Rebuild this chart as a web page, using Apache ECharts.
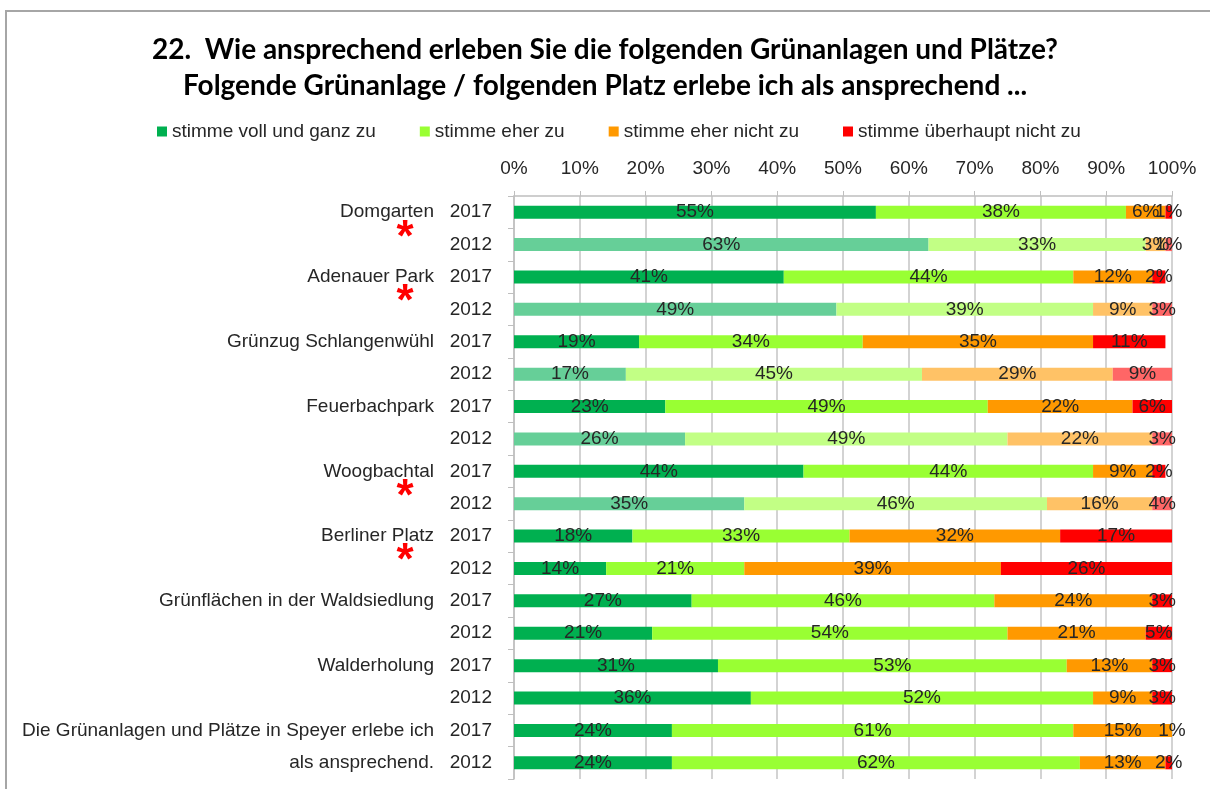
<!DOCTYPE html>
<html>
<head>
<meta charset="utf-8">
<script src="https://cdn.jsdelivr.net/npm/echarts@6/dist/echarts.min.js"></script>
<style>
    html, body { margin: 0; padding: 0; background: #fff; }
    #chart { width: 1210px; height: 789px; }
</style>
</head>
<body>
<div id="chart"></div>
<script>
// rows from top to bottom
let names = ['Domgarten', '', 'Adenauer Park', '', 'Grünzug Schlangenwühl', '', 'Feuerbachpark', '',
    'Woogbachtal', '', 'Berliner Platz', '', 'Grünflächen in der Waldsiedlung', '', 'Walderholung', '',
    'Die Grünanlagen und Plätze in Speyer erlebe ich', 'als ansprechend.'];
let years = ['2017', '2012', '2017', '2012', '2017', '2012', '2017', '2012', '2017', '2012',
    '2017', '2012', '2017', '2012', '2017', '2012', '2017', '2012'];
// 2012 rows drawn in the paler colours
let faded = [0, 1, 0, 1, 0, 1, 0, 1, 0, 1, 0, 0, 0, 0, 0, 0, 0, 0];
// rows marked with a red asterisk (between 2017 and 2012)
let starred = [0, 2, 8, 10];

let seriesNames = ['stimme voll und ganz zu', 'stimme eher zu', 'stimme eher nicht zu', 'stimme überhaupt nicht zu'];
let vollUndGanz = [55, 63, 41, 49, 19, 17, 23, 26, 44, 35, 18, 14, 27, 21, 31, 36, 24, 24];
let eherZu = [38, 33, 44, 39, 34, 45, 49, 49, 44, 46, 33, 21, 46, 54, 53, 52, 61, 62];
let eherNicht = [6, 3, 12, 9, 35, 29, 22, 22, 9, 16, 32, 39, 24, 21, 13, 9, 15, 13];
let ueberhauptNicht = [1, 1, 2, 3, 11, 9, 6, 3, 2, 4, 17, 26, 3, 5, 3, 3, 1, 2];

let xTicks = [0, 10, 20, 30, 40, 50, 60, 70, 80, 90, 100];

let colors = ['#00B050', '#99FF33', '#FF9900', '#FF0000'];
let lightColors = ['#66CF98', '#C2FF85', '#FFC266', '#FF6666'];

let font = "'Liberation Sans', Arial, sans-serif";

var dom = document.getElementById('chart');
var myChart = echarts.init(dom, null, { renderer: 'canvas' });

let allValues = [vollUndGanz, eherZu, eherNicht, ueberhauptNicht];
let cats = names.map((n, i) => i + '|' + n + '|' + years[i]);

let series = allValues.map((vals, s) => ({
    name: seriesNames[s],
    type: 'bar',
    stack: 'all',
    barWidth: 13,
    itemStyle: { color: colors[s] },
    label: {
        show: true,
        position: 'inside',
        formatter: '{c}%',
        fontFamily: font,
        fontSize: 19,
        color: '#262626'
    },
    data: vals.map((v, i) => faded[i] ? { value: v, itemStyle: { color: lightColors[s] } } : v)
}));

var option = {
    backgroundColor: '#fff',
    animation: false,
    title: {
        text: '22.  Wie ansprechend erleben Sie die folgenden Grünanlagen und Plätze?\nFolgende Grünanlage / folgenden Platz erlebe ich als ansprechend ...',
        left: 600,
        top: 27,
        textAlign: 'center',
        textStyle: {
            fontFamily: "Lato, 'Open Sans', sans-serif",
            fontWeight: 'bold',
            fontSize: 28,
            lineHeight: 36,
            color: '#000'
        }
    },
    legend: {
        left: 152,
        top: 117,
        itemWidth: 10,
        itemHeight: 10,
        itemGap: 44,
        icon: 'rect',
        textStyle: { fontFamily: font, fontSize: 19, color: '#262626' },
        data: seriesNames
    },
    grid: { left: 514, right: 38, top: 196, bottom: 10 },
    xAxis: {
        type: 'value',
        position: 'top',
        min: 0,
        max: 100,
        interval: 10,
        axisLine: { show: true, lineStyle: { color: '#bfbfbf', width: 1.5 } },
        axisTick: { show: true, length: 5, lineStyle: { color: '#bfbfbf' } },
        axisLabel: {
            margin: 18,
            formatter: v => xTicks.indexOf(v) >= 0 ? v + '%' : '',
            fontFamily: font,
            fontSize: 19,
            color: '#262626'
        },
        splitLine: { show: true, lineStyle: { color: '#c4c4c4', width: 1.5 } }
    },
    yAxis: {
        type: 'category',
        inverse: true,
        data: cats,
        axisLine: { show: true, lineStyle: { color: '#bfbfbf', width: 1.5 } },
        axisTick: { show: true, length: 6, lineStyle: { color: '#bfbfbf' } },
        axisLabel: {
            margin: 22,
            fontFamily: font,
            fontSize: 19,
            color: '#262626',
            formatter: function (v) {
                let p = v.split('|');
                return (p[1] ? '{n|' + p[1] + '}' : '') + '{y|' + p[2] + '}';
            },
            rich: {
                n: { fontFamily: font, fontSize: 19, color: '#262626' },
                y: { fontFamily: font, fontSize: 19, color: '#262626', width: 58, align: 'right' }
            }
        }
    },
    graphic: [{
        type: 'rect',
        shape: { x: 6, y: 11, width: 1400, height: 900 },
        style: { fill: null, stroke: '#a6a6a6', lineWidth: 2 },
        silent: true
    }],
    series: series
};

myChart.setOption(option);

// red asterisks between the 2017 and 2012 rows
let stars = starred.map(i => {
    let y1 = myChart.convertToPixel({ yAxisIndex: 0 }, cats[i]);
    let y2 = myChart.convertToPixel({ yAxisIndex: 0 }, cats[i + 1]);
    return {
        type: 'text',
        x: 405,
        y: (y1 + y2) / 2 + 10,
        silent: true,
        style: {
            text: '*',
            fill: '#FF0000',
            font: "bold 44px 'Liberation Sans', Arial, sans-serif",
            textAlign: 'center',
            textVerticalAlign: 'middle'
        }
    };
});
myChart.setOption({ graphic: option.graphic.concat(stars) });

window.addEventListener('resize', myChart.resize);
</script>
</body>
</html>
